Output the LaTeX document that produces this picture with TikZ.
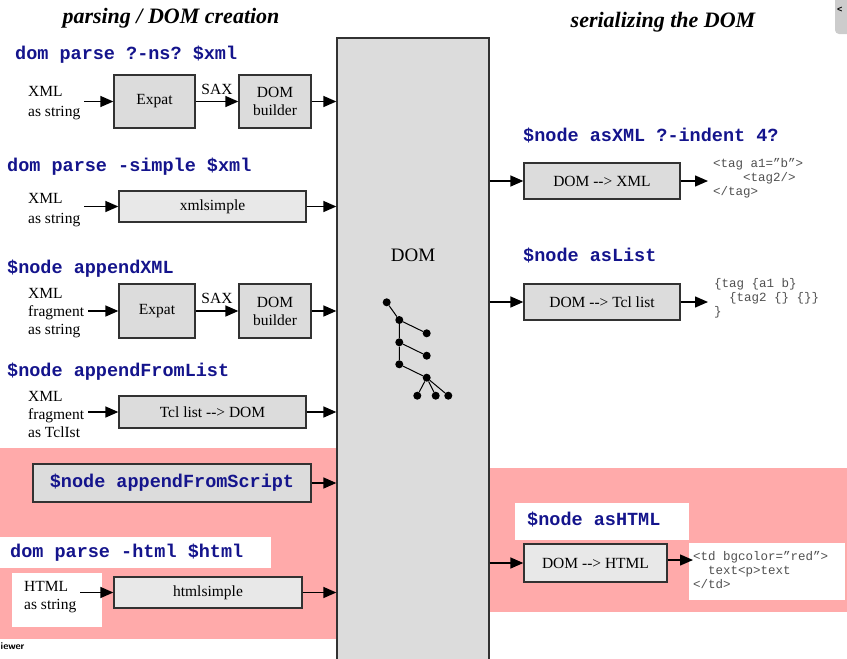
\documentclass[tikz,border=0pt]{standalone}
\usepackage{fontspec}
\setmainfont{Liberation Serif}
\setmonofont{Liberation Mono}
\usetikzlibrary{arrows.meta}
\definecolor{codeblue}{RGB}{20,20,140}
\definecolor{boxgray}{RGB}{220,220,220}
\definecolor{lightboxgray}{RGB}{232,232,232}
\definecolor{pinkbg}{RGB}{255,170,170}
\definecolor{outgray}{RGB}{80,80,80}
\definecolor{edgegray}{RGB}{50,50,50}

\begin{document}
\begin{tikzpicture}[x=1pt, y=-1pt,
    box/.style={draw=edgegray, line width=1.3pt, fill=boxgray, inner sep=0pt, align=center, font=\fontsize{15.5}{18}\selectfont},
    lightbox/.style={box, fill=lightboxgray},
    code/.style={anchor=west, inner sep=0pt, text=codeblue, font=\ttfamily\bfseries\fontsize{18.5}{22}\selectfont},
    intext/.style={anchor=west, inner sep=4pt, align=left, font=\fontsize{15.5}{18}\selectfont},
    outtext/.style={anchor=west, inner sep=0pt, align=left, text=outgray, font=\ttfamily\fontsize{12.5}{14}\selectfont},
    title/.style={font=\fontsize{22}{26}\selectfont\bfseries\itshape},
    arr/.style={line width=1.4pt, -{Triangle[length=13pt,width=11pt]}},
    dot/.style={circle, fill=black, inner sep=0pt, minimum size=8pt}]
  \clip (0,0) rectangle (847,659);

  \fill[pinkbg] (0,448) rectangle (337,639);
  \fill[pinkbg] (489,468) rectangle (847,612);
  \fill[white] (0,537) rectangle (271,568);
  \fill[white] (12,573) rectangle (102,627);
  \fill[white] (515,503) rectangle (689,540);
  \fill[white] (689,543) rectangle (845,600);

  \node[title] (ltitle) at (171,18) {parsing / DOM creation};
  \node[title] (rtitle) at (663,22) {serializing the DOM};

  \node[box, minimum width=152pt, minimum height=630pt] (dom) at (413,353) {};
  \node[font=\fontsize{19}{22}\selectfont] (domlabel) at (413,255) {DOM};

  \node[dot] (t1) at (386.7,302.3) {};
  \node[dot] (t2) at (399.3,320) {};
  \node[dot] (t3) at (426.7,333.3) {};
  \node[dot] (t4) at (399.3,342.3) {};
  \node[dot] (t5) at (426.7,355.7) {};
  \node[dot] (t6) at (399.3,364.3) {};
  \node[dot] (t7) at (426.7,377.7) {};
  \node[dot] (t8) at (417.3,395.7) {};
  \node[dot] (t9) at (435.7,395.7) {};
  \node[dot] (t10) at (448.3,395.7) {};
  \draw[line width=1pt] (t1) -- (t2) -- (t4) -- (t6) -- (t7);
  \draw[line width=1pt] (t2) -- (t3);
  \draw[line width=1pt] (t4) -- (t5);
  \draw[line width=1pt] (t8) -- (t7) -- (t9);
  \draw[line width=1pt] (t7) -- (t10);

  \node[code] (cmd1) at (15,55) {dom parse ?-ns? \$xml};
  \node[intext, font=\fontsize{15.5}{20}\selectfont] (in1) at (24,103) {XML\\as string};
  \node[box, minimum width=81pt, minimum height=53pt] (expat1) at (154.5,101.5) {Expat};
  \node[box, minimum width=72pt, minimum height=53pt] (build1) at (275,101.5) {DOM\\builder};
  \draw[arr] (in1.east |- expat1) -- (expat1);
  \draw[arr] (expat1) -- node[above=3pt, font=\fontsize{15.5}{18}\selectfont] {SAX} (build1);
  \draw[arr] (build1) -- (build1 -| dom.west);

  \node[code] (cmd2) at (7,167) {dom parse -simple \$xml};
  \node[intext, font=\fontsize{15.5}{20}\selectfont] (in2) at (24,210) {XML\\as string};
  \node[lightbox, minimum width=187pt, minimum height=31pt] (simple) at (212.5,206.5) {xmlsimple};
  \draw[arr] (in2.east |- simple) -- (simple);
  \draw[arr] (simple) -- (simple -| dom.west);

  \node[code] (cmd3) at (7,269) {\$node appendXML};
  \node[intext] (in3) at (24,313) {XML\\fragment\\as string};
  \node[box, minimum width=76pt, minimum height=54pt] (expat2) at (157,311) {Expat};
  \node[box, minimum width=72pt, minimum height=54pt] (build2) at (275,311) {DOM\\builder};
  \draw[arr] (in3.east |- expat2) -- (expat2);
  \draw[arr] (expat2) -- node[above=3pt, font=\fontsize{15.5}{18}\selectfont] {SAX} (build2);
  \draw[arr] (build2) -- (build2 -| dom.west);

  \node[code] (cmd4) at (7,372) {\$node appendFromList};
  \node[intext] (in4) at (24,414) {XML\\fragment\\as TclIst};
  \node[box, minimum width=187pt, minimum height=32pt] (tcl2dom) at (212.5,412) {Tcl list -{}-> DOM};
  \draw[arr] (in4.east |- tcl2dom) -- (tcl2dom);
  \draw[arr] (tcl2dom) -- (tcl2dom -| dom.west);

  \node[box, minimum width=278pt, minimum height=38pt, text=codeblue, font=\ttfamily\bfseries\fontsize{18.5}{22}\selectfont] (script) at (172,483) {\$node appendFromScript};
  \draw[arr] (script) -- (script -| dom.west);

  \node[code] (cmd6) at (10,553) {dom parse -html \$html};
  \node[intext] (in6) at (20,597) {HTML\\as string};
  \node[lightbox, minimum width=188pt, minimum height=31pt] (htmls) at (208,592.5) {htmlsimple};
  \draw[arr] (in6.east |- htmls) -- (htmls);
  \draw[arr] (htmls) -- (htmls -| dom.west);

  \node[code] (cmd7) at (523,135) {\$node asXML ?-indent 4?};
  \node[box, minimum width=156pt, minimum height=36pt] (toxml) at (602,181) {DOM -{}-> XML};
  \node[outtext] (outxml) at (713,178) {<tag a1=”b”>\\\phantom{abcd}<tag2/>\\</tag>};
  \draw[arr] (dom.east |- toxml) -- (toxml);
  \draw[arr, shorten >=5pt] (toxml) -- (toxml -| outxml.west);

  \node[code] (cmd8) at (523,255) {\$node asList};
  \node[box, minimum width=156pt, minimum height=36pt] (tolist) at (602,302) {DOM -{}-> Tcl list};
  \node[outtext] (outlist) at (714,298) {\{tag \{a1 b\}\\\phantom{ab}\{tag2 \{\} \{\}\}\\\}};
  \draw[arr] (dom.east |- tolist) -- (tolist);
  \draw[arr, shorten >=6pt] (tolist) -- (tolist -| outlist.west);

  \node[code] (cmd9) at (527,519) {\$node asHTML};
  \node[lightbox, minimum width=143pt, minimum height=38pt] (tohtml) at (595.5,563) {DOM -{}-> HTML};
  \node[outtext] (outhtml) at (693,570) {<td bgcolor=”red”>\\\phantom{ab}text<p>text\\</td>};
  \draw[arr] (dom.east |- tohtml) -- (tohtml);
  \draw[arr] ([yshift=3pt]tohtml.east) -- ([yshift=3pt]tohtml.east -| outhtml.west);

  \fill[gray!40, rounded corners=4pt] (835,-6) rectangle (856,34);
  \node[anchor=west, inner sep=0pt, font=\ttfamily\bfseries\fontsize{9}{10}\selectfont] (tabtext) at (837,10) {<};
  \node[anchor=west, inner sep=0pt, font=\sffamily\bfseries\fontsize{10}{11}\selectfont] (viewer) at (0.5,646) {iewer};
\end{tikzpicture}
\end{document}
